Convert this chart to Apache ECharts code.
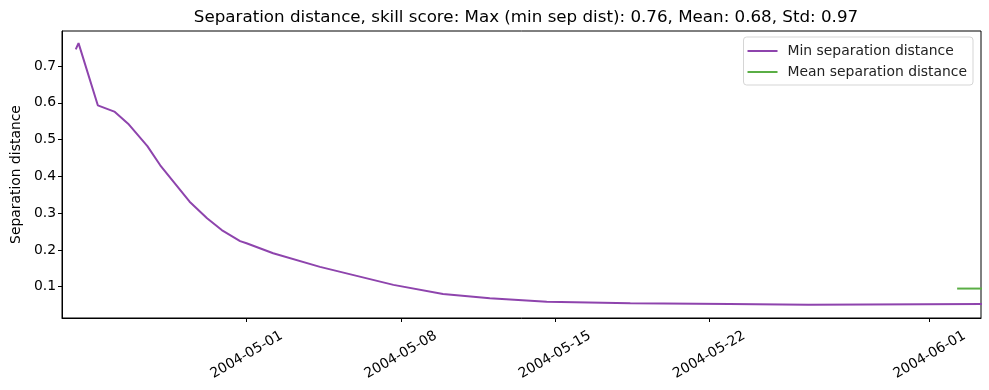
<!DOCTYPE html>
<html><head><meta charset="utf-8">
<script src="https://cdn.jsdelivr.net/npm/echarts@6/dist/echarts.min.js"></script>
<style>html,body{margin:0;padding:0;background:#fff}#c{width:989px;height:390px}</style>
</head><body><div id="c"></div>
<script>
const titleText = 'Separation distance, skill score: Max (min sep dist): 0.76, Mean: 0.68, Std: 0.97';
const minTimes = ['2004-04-23T06:00','2004-04-23T09:00','2004-04-24T06:00','2004-04-25T00:00','2004-04-25T15:00','2004-04-26T12:00','2004-04-27T02:00','2004-04-28T10:00','2004-04-29T05:00','2004-04-29T21:00','2004-04-30T17:00','2004-05-01T00:00','2004-05-02T05:00','2004-05-04T08:00','2004-05-07T16:00','2004-05-09T22:00','2004-05-12T01:00','2004-05-14T15:00','2004-05-18T10:00','2004-05-22T22:00','2004-05-26T12:00','2004-06-03T12:00'];
const minValues = [0.745,0.762,0.593,0.576,0.543,0.482,0.430,0.331,0.286,0.254,0.224,0.218,0.191,0.154,0.105,0.080,0.0685,0.0593,0.055,0.053,0.051,0.053];
const meanTimes = ['2004-06-02T06:00','2004-06-03T12:00'];
const meanValues = [0.095,0.095];
const xTickLabels = ['2004-05-01','2004-05-08','2004-05-15','2004-05-22','2004-06-01'];
const yTickLabels = [0.1,0.2,0.3,0.4,0.5,0.6,0.7];

const ts = s => new Date(s + 'Z').getTime();
const xTicks = xTickLabels.map(d => ts(d + 'T00:00'));
const pad = n => String(n).padStart(2,'0');
const fmt = v => { const d = new Date(v); return d.getUTCFullYear()+'-'+pad(d.getUTCMonth()+1)+'-'+pad(d.getUTCDate()); };

const chart = echarts.init(document.getElementById('c'), null, {renderer:'canvas'});
const font = 'DejaVu Sans';
chart.setOption({
  animation:false,
  textStyle:{fontFamily:font},
  title:{text:titleText,left:521,top:4,textAlign:'center',textStyle:{fontFamily:font,fontSize:16.7,fontWeight:'normal',color:'#000'}},
  grid:{left:62,right:8,top:31,bottom:72,show:true,borderColor:'#000',borderWidth:1,containLabel:false,outerBoundsMode:'none'},
  legend:{orient:'vertical',right:16,top:37,icon:'rect',itemWidth:30,itemHeight:2,itemGap:7,
    padding:[7,6,6,4],borderColor:'#d5d5d5',borderWidth:1,borderRadius:3,backgroundColor:'#fff',
    textStyle:{fontFamily:font,fontSize:13.9,color:'#222',padding:[0,0,0,5]},
    data:['Min separation distance','Mean separation distance']},
  xAxis:{type:'value',min:ts('2004-04-22T15:00'),max:ts('2004-06-03T08:00'),
    axisLine:{show:true,lineStyle:{color:'#000'}},
    axisTick:{show:true,length:4,lineStyle:{color:'#000'},customValues:xTicks},
    axisLabel:{customValues:xTicks,formatter:v=>fmt(v),rotate:30,align:'center',verticalAlign:'middle',margin:37,
      fontFamily:font,fontSize:13.9,color:'#000'},
    splitLine:{show:false}},
  yAxis:{type:'value',min:0.015,max:0.795,name:'Separation distance',nameLocation:'middle',nameGap:38,
    nameTextStyle:{fontFamily:font,fontSize:13.9,color:'#000'},
    axisLine:{show:true,lineStyle:{color:'#000'}},
    axisTick:{show:true,length:4,lineStyle:{color:'#000'},customValues:yTickLabels},
    axisLabel:{customValues:yTickLabels,formatter:v=>String(Math.round(v*10)/10),margin:6,fontFamily:font,fontSize:13.9,color:'#000'},
    splitLine:{show:false}},
  series:[
    {name:'Min separation distance',type:'line',data:minTimes.map((t,i)=>[ts(t),minValues[i]]),
      showSymbol:false,clip:true,lineStyle:{color:'#8e44ad',width:2},itemStyle:{color:'#8e44ad'}},
    {name:'Mean separation distance',type:'line',data:meanTimes.map((t,i)=>[ts(t),meanValues[i]]),
      showSymbol:false,clip:true,lineStyle:{color:'#5aae45',width:2},itemStyle:{color:'#5aae45'}}
  ]
});
</script></body></html>
